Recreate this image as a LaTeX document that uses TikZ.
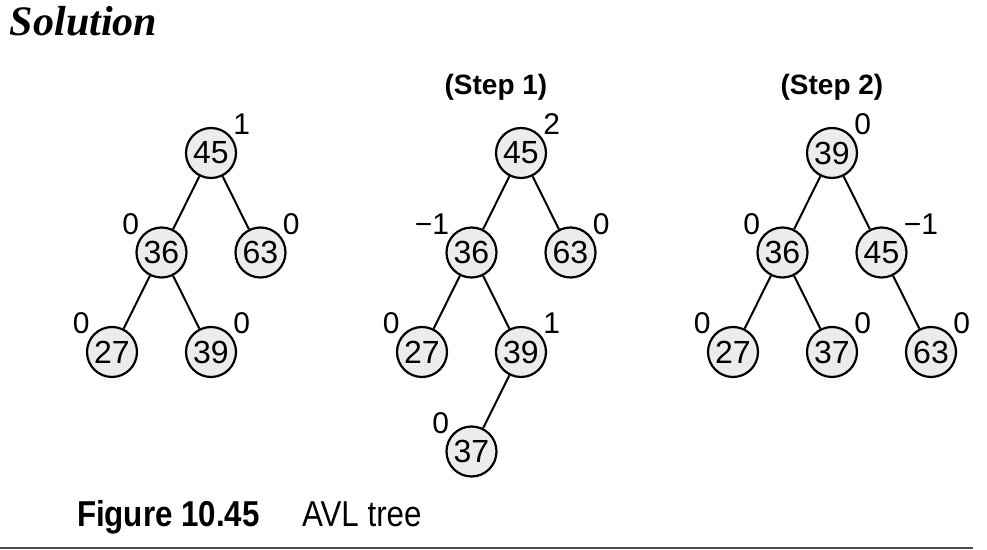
\documentclass[tikz,border=0pt]{standalone}
\usepackage{fontspec}
\setmainfont{Liberation Sans}
\newfontfamily\titlefont{Liberation Serif}
\newfontfamily\capfont[FakeStretch=0.87]{Liberation Sans}
\usetikzlibrary{positioning}

\begin{document}
\begin{tikzpicture}[
            x = 0.5pt, y = 0.5pt, % one unit is one pixel
            on grid,
            node distance = 49.75pt and 24.75pt, % level height and half spread
            tn/.style = {circle, draw, line width=1.1pt, fill=gray!15,
                minimum size=25pt, inner sep=0pt, font=\fontsize{16}{16}\selectfont},
            rb/.style = {inner sep=0pt, anchor=base west, xshift=1.5pt,
                font=\fontsize{15}{15}\selectfont}, % balance on the right
            lb/.style = {inner sep=0pt, anchor=base east, xshift=-1.5pt,
                font=\fontsize{15}{15}\selectfont}, % balance on the left
            heading/.style = {anchor=base, font=\bfseries\fontsize{14}{14}\selectfont},
            line width = 1pt % edge style
        ]

	\useasboundingbox (0,0) rectangle (987,-550);

	\node[anchor=base west, inner sep=0pt,
	      font=\titlefont\bfseries\itshape\fontsize{21}{21}\selectfont] (title) at (9,-36) {Solution};

	% before
	\node[tn] (a45) at (211,-153) [label={[rb]45:1}] {45};
	\node[tn] (a36) [below left=of a45, label={[lb]135:0}] {36};
	\node[tn] (a63) [below right=of a45, label={[rb]45:0}] {63};
	\node[tn] (a27) [below left=of a36, label={[lb]135:0}] {27};
	\node[tn] (a39) [below right=of a36, label={[rb]45:0}] {39};

	\draw (a45) -- (a36) (a45) -- (a63) (a36) -- (a27) (a36) -- (a39);

	% step 1
	\node[heading] (s1) at (496,-95) {(Step 1)};
	\node[tn] (b45) at (521,-153) [label={[rb]45:2}] {45};
	\node[tn] (b36) [below left=of b45, label={[lb]135:−1}] {36};
	\node[tn] (b63) [below right=of b45, label={[rb]45:0}] {63};
	\node[tn] (b27) [below left=of b36, label={[lb]135:0}] {27};
	\node[tn] (b39) [below right=of b36, label={[rb]45:1}] {39};
	\node[tn] (b37) [below left=of b39, label={[lb]135:0}] {37};

	\draw (b45) -- (b36) (b45) -- (b63) (b36) -- (b27) (b36) -- (b39) (b39) -- (b37);

	% step 2
	\node[heading] (s2) at (832,-95) {(Step 2)};
	\node[tn] (c39) at (832,-153) [label={[rb]45:0}] {39};
	\node[tn] (c36) [below left=of c39, label={[lb]135:0}] {36};
	\node[tn] (c45) [below right=of c39, label={[rb]45:−1}] {45};
	\node[tn] (c27) [below left=of c36, label={[lb]135:0}] {27};
	\node[tn] (c37) [below right=of c36, label={[rb]45:0}] {37};
	\node[tn] (c63) [below right=of c45, label={[rb]45:0}] {63};

	\draw (c39) -- (c36) (c39) -- (c45) (c36) -- (c27) (c36) -- (c37) (c45) -- (c63);

	% caption
	\node[anchor=base west, inner sep=0pt,
	      font=\capfont\bfseries\fontsize{18}{18}\selectfont] (fig) at (76,-527) {Figure 10.45};
	\node[anchor=base west, inner sep=0pt,
	      font=\capfont\fontsize{18}{18}\selectfont] (cap) at (301,-527) {AVL tree};
	\draw[line width=1pt, black!70] (0,-548) -- (973,-548);

\end{tikzpicture}
\end{document}
